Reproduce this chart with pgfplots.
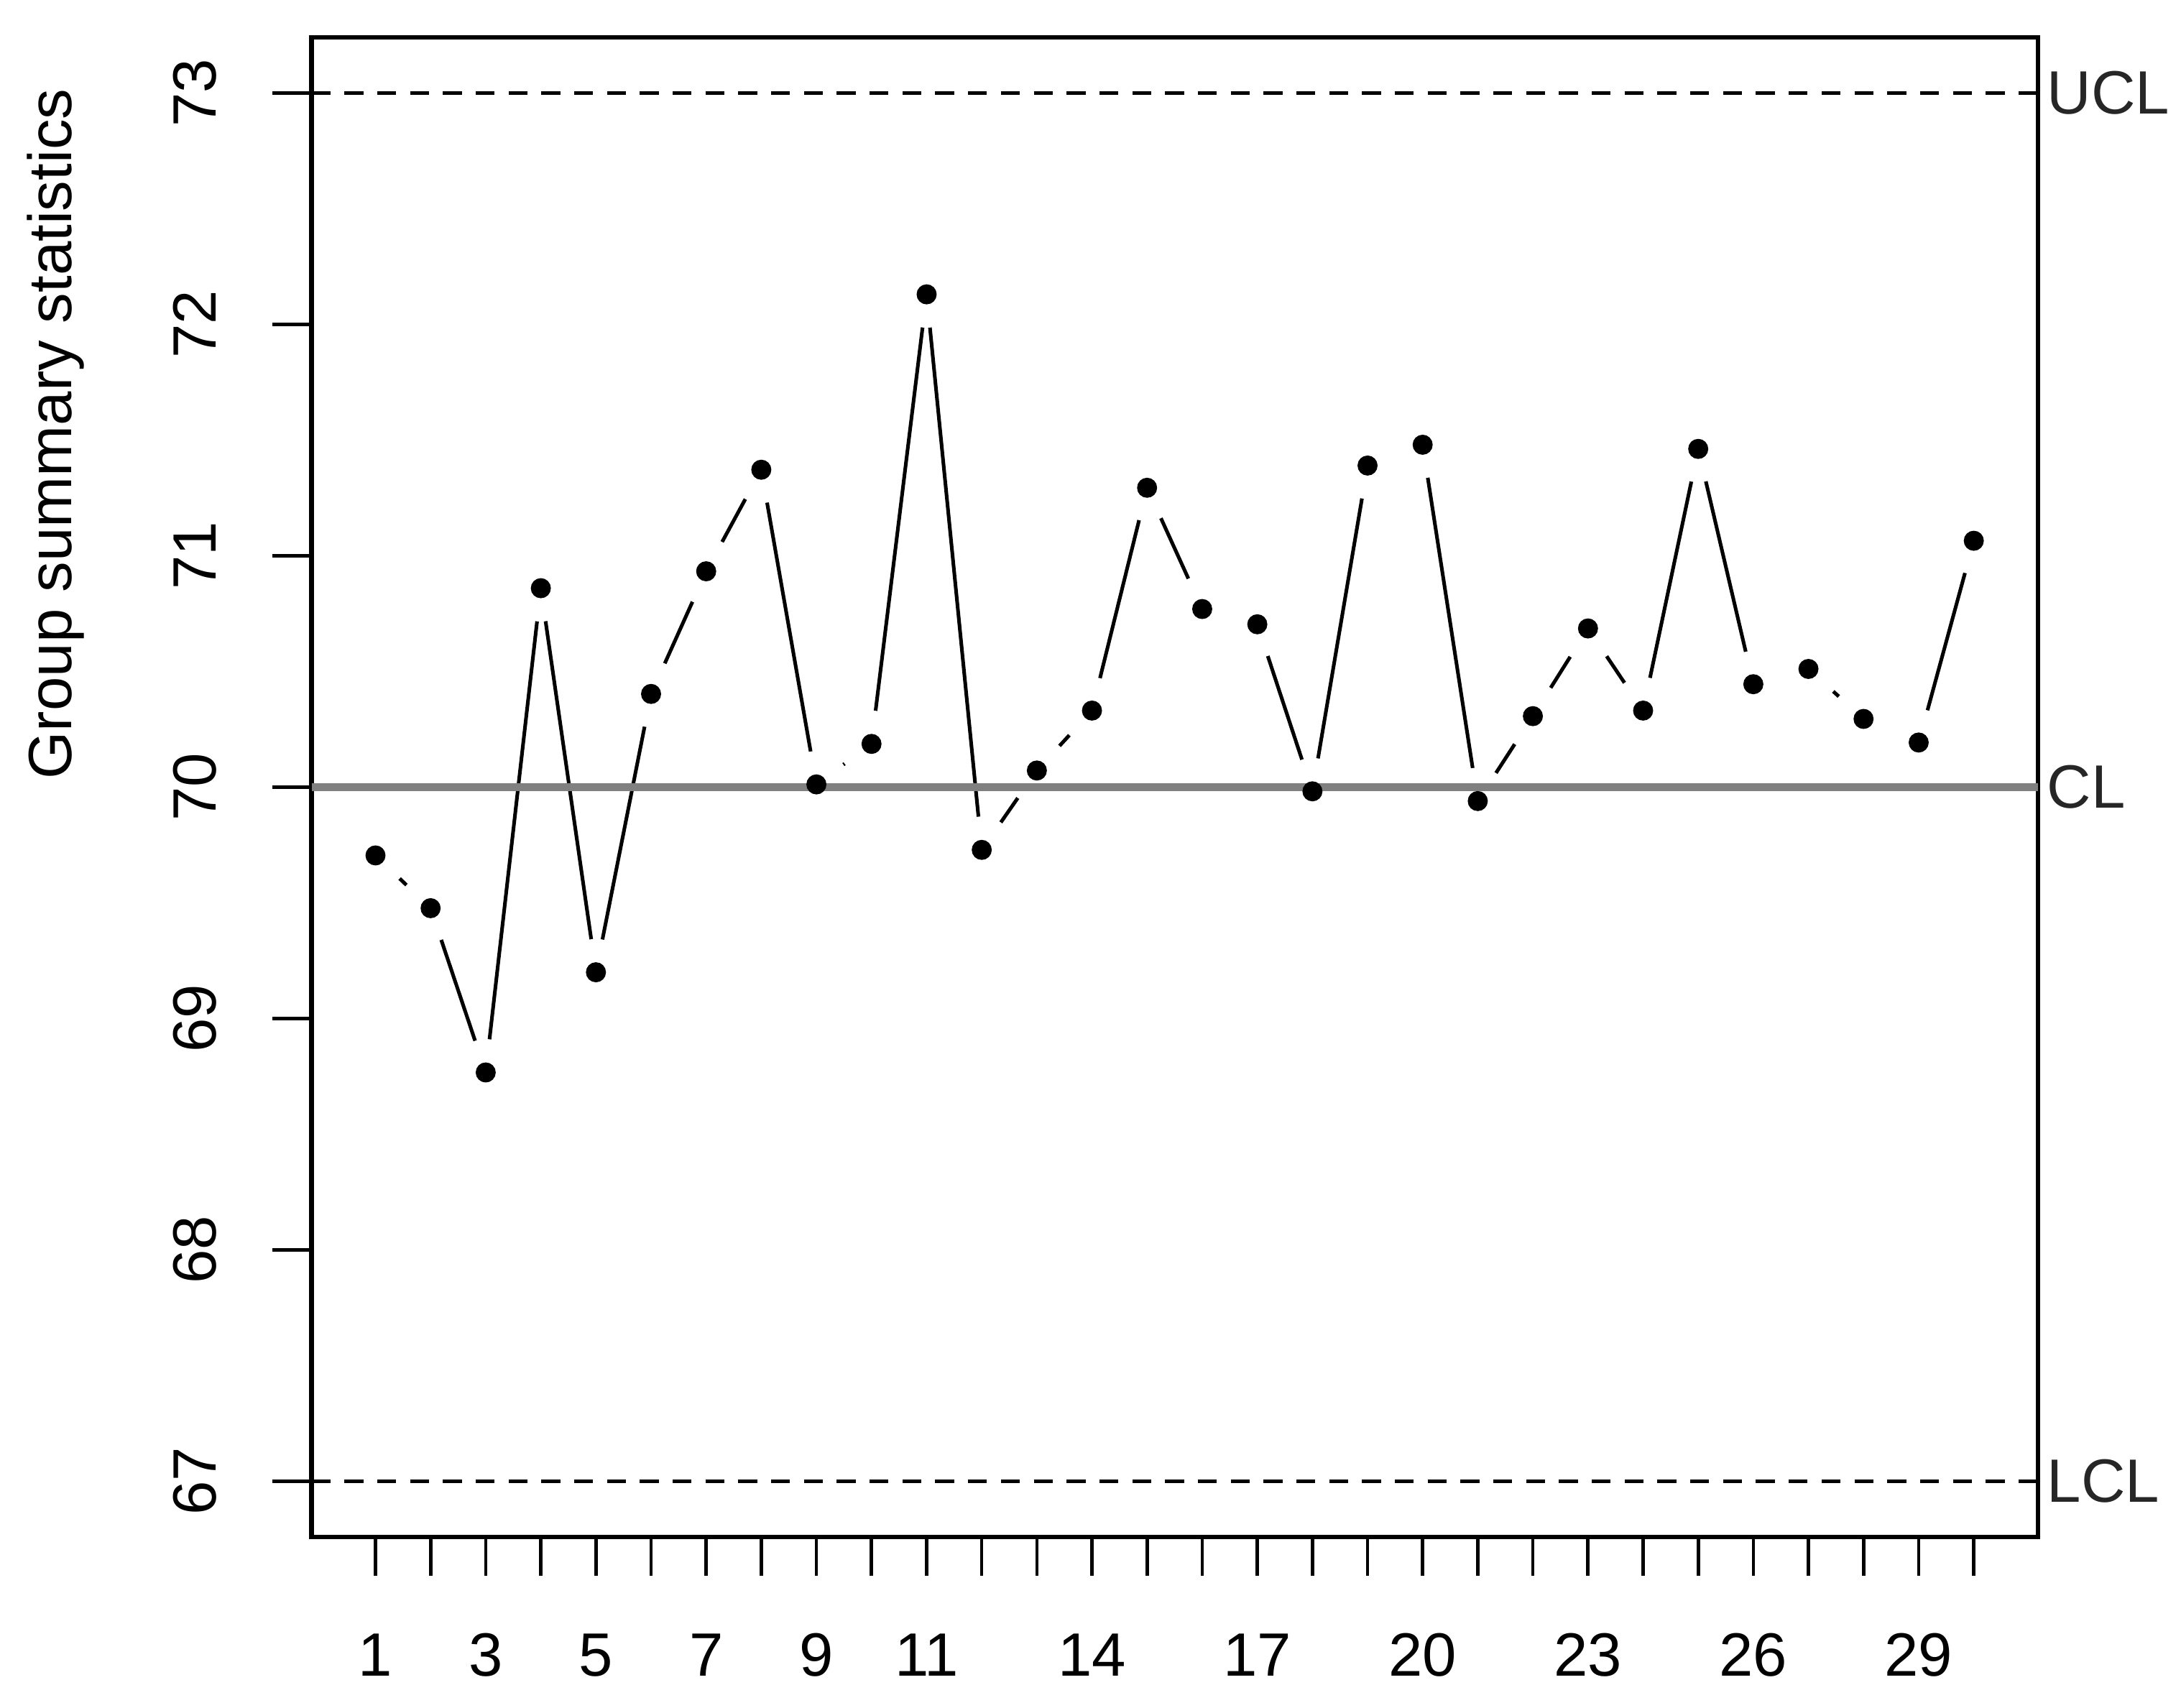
\documentclass[border=0pt]{standalone}
\usepackage{fontspec}
\setmainfont{Liberation Sans}
\usepackage{pgfplots}
\usepackage{pgfplotstable}
\pgfplotsset{compat=1.18}
\pgfplotstableread{
x y
1 69.705
2 69.477
3 68.767
4 70.860
5 69.200
6 70.403
7 70.933
8 71.372
9 70.012
10 70.187
11 72.130
12 69.729
13 70.072
14 70.331
15 71.294
16 70.770
17 70.704
18 69.982
19 71.390
20 71.480
21 69.940
22 70.307
23 70.686
24 70.331
25 71.462
26 70.445
27 70.511
28 70.295
29 70.193
30 71.065
}\groupdata
\pgfplotsset{qccframe/.style={
  at={(0,0)}, anchor=south west,
  scale only axis, width=310.25pt, height=269.5pt,
  xmin=-0.16, xmax=31.16, ymin=66.76, ymax=73.24,
  clip=false}}
\begin{document}
\fontsize{11pt}{13pt}\selectfont
\begin{tikzpicture}
% layer 1: connecting line with gaps around the points
\begin{axis}[qccframe, hide axis]
\addplot[black, line width=0.65pt, no marks] table[x=x,y=y] {\groupdata};
\addplot[white, only marks, mark=*, mark size=5.8pt, mark options={draw=white, fill=white}] table[x=x,y=y] {\groupdata};
\end{axis}
% layer 2: frame, limits and points
\begin{axis}[
  qccframe,
  axis line style={line width=0.8pt},
  xtick={1,...,30},
  xticklabels={1,,3,,5,,7,,9,,11,,,14,,,17,,,20,,,23,,,26,,,29,},
  ytick={67,...,73},
  tick align=outside,
  xtick pos=bottom, ytick pos=left,
  major tick length=7pt,
  tick style={black, line width=0.6pt},
  xticklabel style={anchor=center, yshift=-14.25pt, font=\fontsize{11pt}{13pt}\selectfont},
  yticklabel style={rotate=90, anchor=center, yshift=14pt, font=\fontsize{11pt}{13pt}\selectfont},
  /pgf/number format/assume math mode=true,
]
\addplot[black, line width=0.6pt, dash pattern=on 3.4pt off 2.5pt, no marks] coordinates {(-0.16,73) (31.16,73)};
\addplot[black, line width=0.6pt, dash pattern=on 3.4pt off 2.5pt, no marks] coordinates {(-0.16,67) (31.16,67)};
\addplot[gray, line width=1.3pt, no marks] coordinates {(-0.16,70) (31.16,70)};
\addplot[black, only marks, mark=*, mark size=1.6pt, mark options={draw=black, fill=black}] table[x=x,y=y] {\groupdata};
\node[anchor=west, inner sep=0pt, xshift=1.5pt, text=black!85] at (axis cs:31.16,73) {UCL};
\node[anchor=west, inner sep=0pt, xshift=1.5pt, text=black!85] at (axis cs:31.16,70) {CL};
\node[anchor=west, inner sep=0pt, xshift=1.5pt, text=black!85] at (axis cs:31.16,67) {LCL};
\node[rotate=90, anchor=center, inner sep=0pt, yshift=46pt] at (rel axis cs:0,0.7356) {Group summary statistics};
\end{axis}
\path (-56pt,-30.75pt) rectangle (336pt,276.25pt);
\end{tikzpicture}
\end{document}
